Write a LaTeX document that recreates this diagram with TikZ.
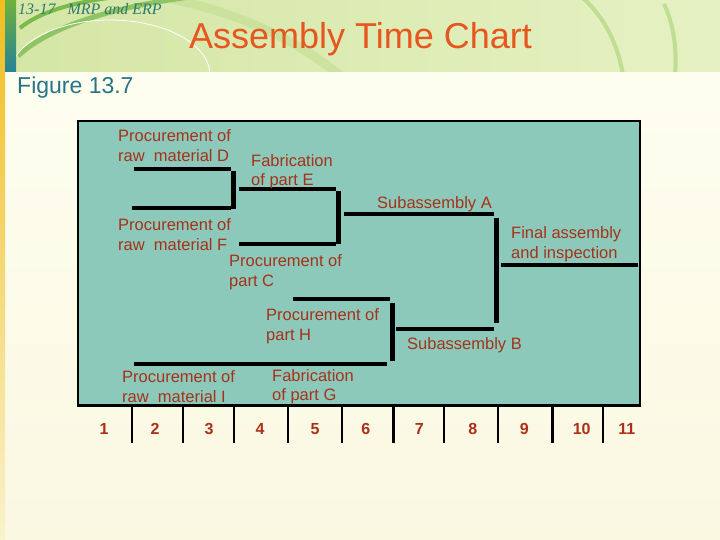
\documentclass[tikz,border=0pt]{standalone}
\usepackage{fontspec}
\setmainfont{Liberation Sans}
\newfontfamily\hdrfont{Liberation Serif}
\definecolor{bandL}{RGB}{212,230,165}
\definecolor{bandR}{RGB}{230,241,195}
\definecolor{creamT}{RGB}{254,254,240}
\definecolor{creamB}{RGB}{250,248,225}
\definecolor{boxfill}{RGB}{141,201,186}
\definecolor{lbl}{RGB}{165,50,26}
\definecolor{numc}{RGB}{172,48,24}
\definecolor{titlec}{RGB}{230,86,30}
\definecolor{figc}{RGB}{40,115,135}
\definecolor{hdrc}{RGB}{45,122,112}
\definecolor{arcg}{RGB}{122,186,72}
\definecolor{arcl}{RGB}{192,222,145}
\tikzset{
  lab/.style={anchor=north west, inner sep=0pt, align=left, text=lbl,
    font=\fontsize{16.5}{19.5}\selectfont},
  num/.style={inner sep=0pt, text=numc, font=\bfseries\fontsize{16}{19}\selectfont},
  bar/.style={line width=4pt, line cap=butt},
  vbar/.style={line width=4.8pt, line cap=butt},
  tick/.style={line width=2.4pt},
}
\begin{document}
\begin{tikzpicture}[x=1pt,y=-1pt]
\useasboundingbox (0,0) rectangle (720,540);
% background
\shade[top color=creamT, bottom color=creamB] (0,72) rectangle (720,540);
\shade[left color=bandL, right color=bandR] (0,0) rectangle (720,72);
\begin{scope}
\clip (0,0) rectangle (720,72);
\draw[arcl, line width=9pt, opacity=0.6] (150,-5) .. controls (230,8) and (300,40) .. (345,80);
\draw[arcg, line width=4pt] (20,28) .. controls (40,12) and (70,3) .. (115,-3);
\draw[arcg!85!white, line width=5pt] (18,56) .. controls (40,35) and (90,10) .. (190,-3);
\draw[white, line width=0.8pt] (110,75) ++(180:100 and 55) arc[start angle=180, end angle=0, x radius=100, y radius=-55];
\draw[arcl, line width=4pt] (583,-2) .. controls (605,18) and (618,45) .. (623,75);
\draw[arcl, line width=4pt] (664,4) .. controls (674,25) and (677,50) .. (675,75);
\end{scope}
\shade[top color={rgb,255:red,240;green,190;blue,30}, middle color={rgb,255:red,240;green,195;blue,60}, bottom color={rgb,255:red,250;green,242;blue,205}] (0,0) rectangle (5,540);
\shade[top color={rgb,255:red,110;green,178;blue,60}, bottom color={rgb,255:red,38;green,130;blue,152}] (5,0) rectangle (16,72);
% header texts
\node[anchor=base west, inner sep=0pt, text=hdrc, font=\hdrfont\itshape\fontsize{16}{19}\selectfont] (hdr) at (18,15) {13-17\hspace{12pt}MRP and ERP};
\node[anchor=base west, inner sep=0pt, text=titlec, font=\fontsize{36}{40}\selectfont] (title) at (189,48.3) {Assembly Time Chart};
\node[anchor=base west, inner sep=0pt, text=figc, font=\fontsize{23}{27}\selectfont] (fig) at (17,93.3) {Figure 13.7};
% chart box
\draw[fill=boxfill, line width=2.6pt] (78,121) rectangle (640,405.5);
% ticks
\foreach \x in {131.7,182.7,234,288,342,393.3,444,497.7,552.3,602.7}
  \draw[tick] (\x,406) -- (\x,443);
% numbers
\foreach \x/\n in {104/1,155/2,209/3,260/4,315/5,365.7/6,419.3/7,472.7/8,524.3/9,581.7/10,626.7/11}
  \node[num] (n\n) at (\x,429.3) {\n};
% bar end points
\coordinate (d1) at (134,169);   \coordinate (d2) at (231,169);
\coordinate (f1) at (132,208);   \coordinate (f2) at (231,208);
\coordinate (v1a) at (233.5,171); \coordinate (v1b) at (233.5,209);
\coordinate (e1) at (239,189);   \coordinate (e2) at (336,189);
\coordinate (c1) at (239,243.5); \coordinate (c2) at (336,243.5);
\coordinate (v2a) at (338.5,191.5); \coordinate (v2b) at (338.5,244);
\coordinate (a1) at (344,214);   \coordinate (a2) at (494,214);
\coordinate (v3a) at (496.5,218); \coordinate (v3b) at (496.5,323);
\coordinate (fin1) at (501,265); \coordinate (fin2) at (638,265);
\coordinate (h1) at (293,298.5); \coordinate (h2) at (390,298.5);
\coordinate (v4a) at (392.5,303); \coordinate (v4b) at (392.5,361);
\coordinate (i1) at (134,364);   \coordinate (i2) at (387,364);
\coordinate (b1) at (396,328.5); \coordinate (b2) at (494,328.5);
\draw[bar] (d1) -- (d2);
\draw[bar] (f1) -- (f2);
\draw[vbar] (v1a) -- (v1b);
\draw[bar] (e1) -- (e2);
\draw[bar] (c1) -- (c2);
\draw[vbar] (v2a) -- (v2b);
\draw[bar] (a1) -- (a2);
\draw[vbar] (v3a) -- (v3b);
\draw[bar] (fin1) -- (fin2);
\draw[bar] (h1) -- (h2);
\draw[vbar] (v4a) -- (v4b);
\draw[bar] (i1) -- (i2);
\draw[bar] (b1) -- (b2);
% labels
\node[lab] (lD) at (118,129.5) {Procurement of\\raw\ \ material D};
\node[lab] (lF) at (118,218.5) {Procurement of\\raw\ \ material F};
\node[lab] (lE) at (251,154) {Fabrication\\of part E};
\node[lab] (lC) at (229,254.5) {Procurement of\\part C};
\node[lab] (lA) at (377,196) {Subassembly A};
\node[lab] (lFin) at (511,226.5) {Final assembly\\and inspection};
\node[lab] (lH) at (266,308.5) {Procurement of\\part H};
\node[lab] (lB) at (407,337.5) {Subassembly B};
\node[lab] (lI) at (122,370.5) {Procurement of\\raw\ \ material I};
\node[lab] (lG) at (272,369) {Fabrication\\of part G};
\end{tikzpicture}
\end{document}
